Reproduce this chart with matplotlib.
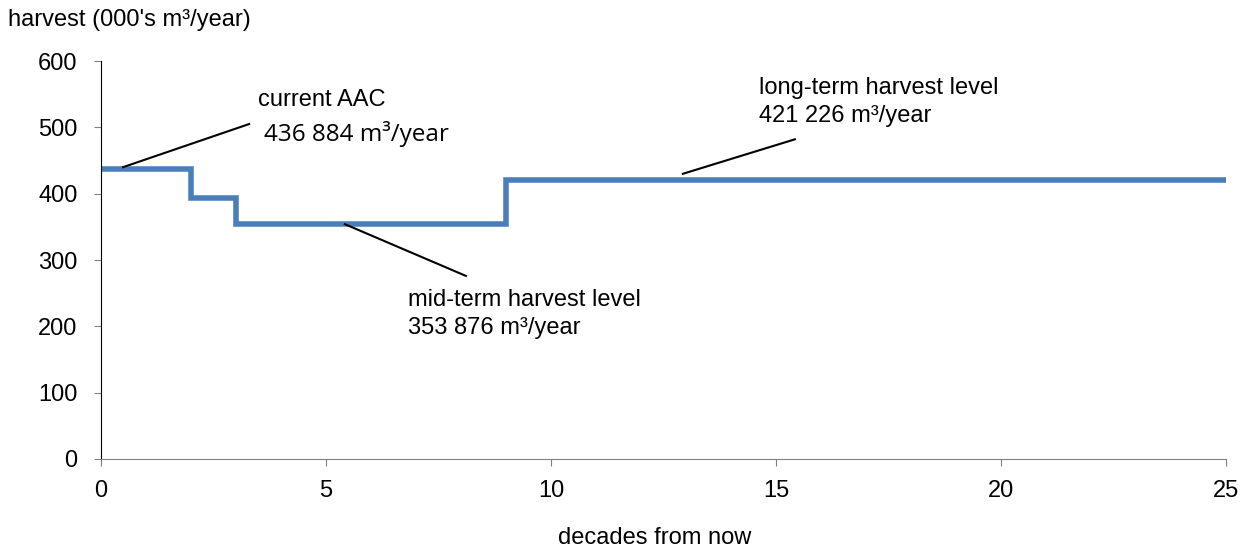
import matplotlib
matplotlib.use('Agg')
import matplotlib.pyplot as plt

# step harvest levels (000's m3/year) per decade interval
decades = [0, 2, 3, 9, 25]
harvest = [436.884, 393.0, 353.876, 421.226, 421.226]

plt.rcParams['font.family'] = ['Liberation Sans', 'DejaVu Sans']
plt.rcParams['font.size'] = 17

fig = plt.figure(figsize=(12.44, 5.5), dpi=100)
ax = fig.add_axes([0.0812, 0.1655, 0.9043, 0.7235])

ax.step(decades, harvest, where='post', color='#4a7ebb', linewidth=4, solid_joinstyle='miter')

ax.set_xlim(0, 25)
ax.set_ylim(0, 600)
ax.set_xticks([0, 5, 10, 15, 20, 25])
ax.set_yticks(range(0, 601, 100))
for s in ['top', 'right']:
    ax.spines[s].set_visible(False)
ax.spines['bottom'].set_color('#808080')
ax.spines['left'].set_color('black')
ax.tick_params(axis='x', direction='out', length=5, color='#808080', pad=10)
ax.tick_params(axis='y', direction='out', length=5, color='#808080', pad=12)

ax.set_xlabel('decades from now', labelpad=18)
ax.xaxis.set_label_coords(0.4924, -0.17)
fig.text(0.0065, 0.963, "harvest (000's m³/year)", va='center', ha='left')

# annotations
ax.plot([0.49, 3.29], [440, 505], color='black', lw=1.5)
ax.text(3.49, 541, 'current AAC', va='center')
ax.text(3.62, 490, '436 884 m³/year', va='center', fontsize=17.5, family=['Open Sans', 'DejaVu Sans'])

ax.plot([5.42, 8.11], [354, 276], color='black', lw=1.5)
ax.text(6.82, 240, 'mid-term harvest level', va='center')
ax.text(6.82, 197, '353 876 m³/year', va='center')

ax.plot([12.93, 15.42], [430, 482], color='black', lw=1.5)
ax.text(14.62, 559, 'long-term harvest level', va='center')
ax.text(14.62, 517, '421 226 m³/year', va='center')

fig.savefig('out.png', dpi=100)
